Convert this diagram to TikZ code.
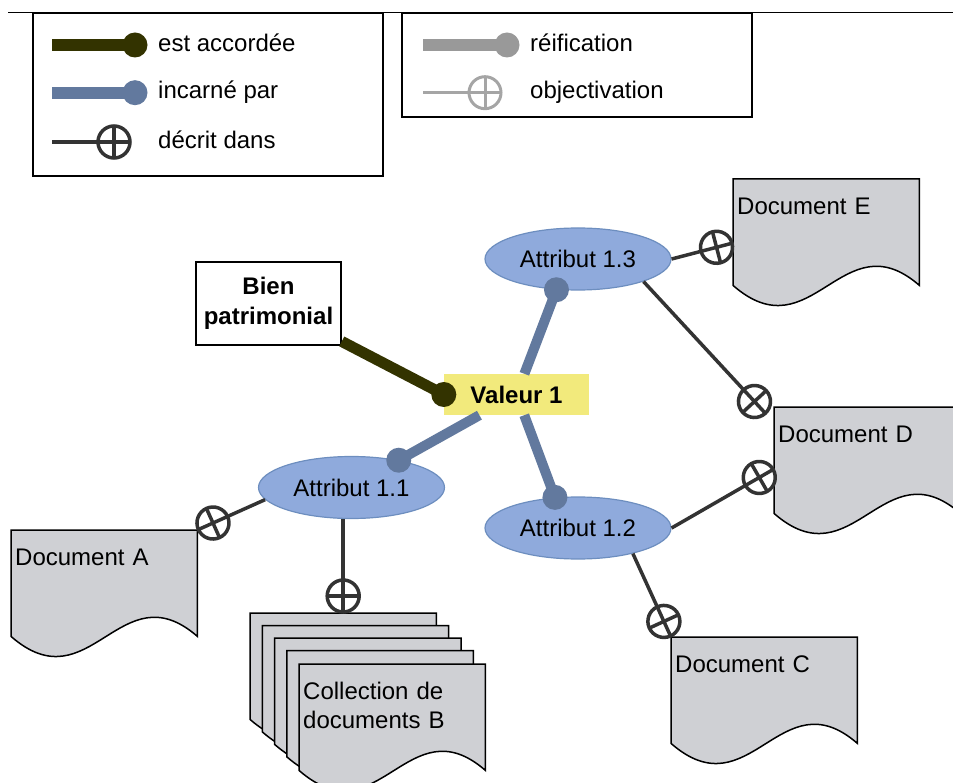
\documentclass[tikz,border=0pt]{standalone}
\usepackage{fontspec}
\setmainfont{Liberation Sans}
\usetikzlibrary{shapes.geometric, decorations.markings}
\pgfdeclarelayer{background}
\pgfsetlayers{background,main}
\definecolor{AccordColor}{HTML}{333300}
\definecolor{IncarneColor}{HTML}{62799E}
\definecolor{AttrFill}{HTML}{8FAADC}
\definecolor{AttrBorder}{HTML}{6D8EBF}
\definecolor{ValeurFill}{HTML}{F2EA7C}
\definecolor{DocFill}{HTML}{CFD0D4}
\definecolor{DecritColor}{HTML}{333333}
\definecolor{ReifColor}{HTML}{999999}
\definecolor{ObjColor}{HTML}{A5A5A5}

\begin{document}
\begin{tikzpicture}[x = 1pt, y = -1pt]
\tikzstyle{TextStyle}=[font = \fontsize{24}{29}\selectfont,
                       inner sep = 0pt,
                       anchor = base west]
\tikzstyle{BoxStyle}=[draw = black, line width = 1.5pt]
\tikzstyle{AttrStyle}=[shape = ellipse,
                       draw = AttrBorder,
                       fill = AttrFill,
                       line width = 1.2pt,
                       minimum width = 186pt,
                       minimum height = 62pt,
                       inner sep = 0pt,
                       font = \fontsize{24}{29}\selectfont]
\tikzstyle{DocStyle}=[shape = rectangle,
                      anchor = north west,
                      minimum width = 186pt,
                      text width = 178pt,
                      inner xsep = 4pt,
                      inner ysep = 0pt,
                      text height = 35pt,
                      text depth = 71pt,
                      align = left,
                      font = \fontsize{24}{29}\selectfont]
\tikzstyle{DocLine}=[draw = black, line width = 1.5pt, fill = DocFill]
\tikzstyle{AccordStyle}=[draw = AccordColor, line width = 11pt]
\tikzstyle{AccordDot}=[shape = circle, fill = AccordColor, minimum size = 25pt, inner sep = 0pt]
\tikzstyle{IncarneStyle}=[draw = IncarneColor, line width = 10pt]
\tikzstyle{IncarneDot}=[shape = circle, fill = IncarneColor, minimum size = 25pt, inner sep = 0pt]
\tikzstyle{ReifStyle}=[draw = ReifColor, line width = 12pt]
\tikzstyle{ReifDot}=[shape = circle, fill = ReifColor, minimum size = 25pt, inner sep = 0pt]
\tikzstyle{DecritStyle}=[draw = DecritColor, line width = 3.5pt,
   postaction = {decorate, decoration = {markings, mark = at position -17pt with
   {\draw[DecritColor, line width = 3.5pt, fill = white] (0pt,0pt) circle (16pt);
    \draw[DecritColor, line width = 3.5pt] (-16pt,0pt) -- (16pt,0pt) (0pt,-16pt) -- (0pt,16pt);}}}]
\tikzstyle{ObjStyle}=[draw = ObjColor, line width = 3pt,
   postaction = {decorate, decoration = {markings, mark = at position -17pt with
   {\draw[ObjColor, line width = 3pt, fill = white] (0pt,0pt) circle (16pt);
    \draw[ObjColor, line width = 3pt] (-16pt,0pt) -- (16pt,0pt) (0pt,-16pt) -- (0pt,16pt);}}}]

\useasboundingbox (0,0) rectangle (953,783);
\draw[line width = 1pt] (8,12.5) -- (953,12.5);
\draw[BoxStyle] (33,13) rectangle (383,176);
\draw[BoxStyle] (402,13) rectangle (752,117);

\coordinate (k1) at (52,45);
\coordinate (k1e) at (135,45);
\coordinate (k2) at (52,92.7);
\coordinate (k2e) at (135,92.7);
\coordinate (k3) at (52,142);
\coordinate (k3e) at (131,142);
\coordinate (k4) at (423,45);
\coordinate (k4e) at (507,45);
\coordinate (k5) at (423,92.7);
\coordinate (k5e) at (502,92.7);
\draw[AccordStyle, line width = 12pt] (k1) -- (k1e) node[AccordDot] (k1d) {};
\draw[IncarneStyle, line width = 12pt] (k2) -- (k2e) node[IncarneDot] (k2d) {};
\draw[DecritStyle] (k3) -- (k3e);
\draw[ReifStyle] (k4) -- (k4e) node[ReifDot] (k4d) {};
\draw[ObjStyle] (k5) -- (k5e);
\node[TextStyle] (t1) at (158,52) {est accordée};
\node[TextStyle] (t2) at (158,99) {incarné par};
\node[TextStyle] (t3) at (158,149) {décrit dans};
\node[TextStyle] (t4) at (530,52) {réification};
\node[TextStyle] (t5) at (530,99) {objectivation};

\node[BoxStyle, fill = white, minimum width = 145pt, minimum height = 83pt, align = center,
      font = \fontsize{24}{30}\selectfont\bfseries] (bien) at (268.5,303.5) {Bien\\patrimonial};
\node[fill = ValeurFill, minimum width = 145pt, minimum height = 41pt,
      font = \fontsize{24}{29}\selectfont\bfseries] (val) at (516.5,394.5) {Valeur 1};
\node[AttrStyle] (a11) at (351.5,487.5) {Attribut 1.1};
\node[AttrStyle] (a12) at (578,528) {Attribut 1.2};
\node[AttrStyle] (a13) at (578,259) {Attribut 1.3};

\node[DocStyle] (dA) at (11,530) {Document A};
\node[DocStyle] (dE) at (733,179) {Document E};
\node[DocStyle] (dD) at (774,407) {Document D};
\node[DocStyle] (dC) at (671,637) {Document C};
\node[DocStyle] (b1) at (250,613) {};
\node[DocStyle] (b2) at (262.3,625.5) {};
\node[DocStyle] (b3) at (274.6,638) {};
\node[DocStyle] (b4) at (286.9,650.5) {};
\node[DocStyle] (b5) at (299,664) {Collection de\\documents B};

\begin{pgfonlayer}{background}
\draw[DocLine] (dA.south west) -- (dA.north west) -- (dA.north east) -- (dA.south east)
  .. controls +(-77,-67) and +(79,69) .. (dA.south west) -- cycle;
\draw[DocLine] (dE.south west) -- (dE.north west) -- (dE.north east) -- (dE.south east)
  .. controls +(-77,-67) and +(79,69) .. (dE.south west) -- cycle;
\draw[DocLine] (dD.south west) -- (dD.north west) -- (dD.north east) -- (dD.south east)
  .. controls +(-77,-67) and +(79,69) .. (dD.south west) -- cycle;
\draw[DocLine] (dC.south west) -- (dC.north west) -- (dC.north east) -- (dC.south east)
  .. controls +(-77,-67) and +(79,69) .. (dC.south west) -- cycle;
\draw[DocLine] (b1.south west) -- (b1.north west) -- (b1.north east) -- (b1.south east)
  .. controls +(-77,-67) and +(79,69) .. (b1.south west) -- cycle;
\draw[DocLine] (b2.south west) -- (b2.north west) -- (b2.north east) -- (b2.south east)
  .. controls +(-77,-67) and +(79,69) .. (b2.south west) -- cycle;
\draw[DocLine] (b3.south west) -- (b3.north west) -- (b3.north east) -- (b3.south east)
  .. controls +(-77,-67) and +(79,69) .. (b3.south west) -- cycle;
\draw[DocLine] (b4.south west) -- (b4.north west) -- (b4.north east) -- (b4.south east)
  .. controls +(-77,-67) and +(79,69) .. (b4.south west) -- cycle;
\draw[DocLine] (b5.south west) -- (b5.north west) -- (b5.north east) -- (b5.south east)
  .. controls +(-77,-67) and +(79,69) .. (b5.south west) -- cycle;
\end{pgfonlayer}

\draw[AccordStyle] (bien) -- (val.west) node[AccordDot] (v0) {};
\draw[IncarneStyle] (val) -- (a11.30) node[IncarneDot] (v1) {};
\draw[IncarneStyle] (val) -- (a12.127) node[IncarneDot] (v2) {};
\draw[IncarneStyle] (val) -- (a13.-125) node[IncarneDot] (v3) {};

\draw[DecritStyle] (a11.188) -- (dA.north east);
\draw[DecritStyle] (a11.south -| b1.north) -- (b1.north);
\draw[DecritStyle] (a13.east) -- ([yshift = -64pt]dE.north west);
\draw[DecritStyle] (a13.-19) -- ([xshift = -8pt, yshift = -7pt]dD.north west);
\draw[DecritStyle] (a12.east) -- ([yshift = -62pt]dD.north west);
\draw[DecritStyle] (a12.-25) -- (dC.north west);
\end{tikzpicture}
\end{document}
